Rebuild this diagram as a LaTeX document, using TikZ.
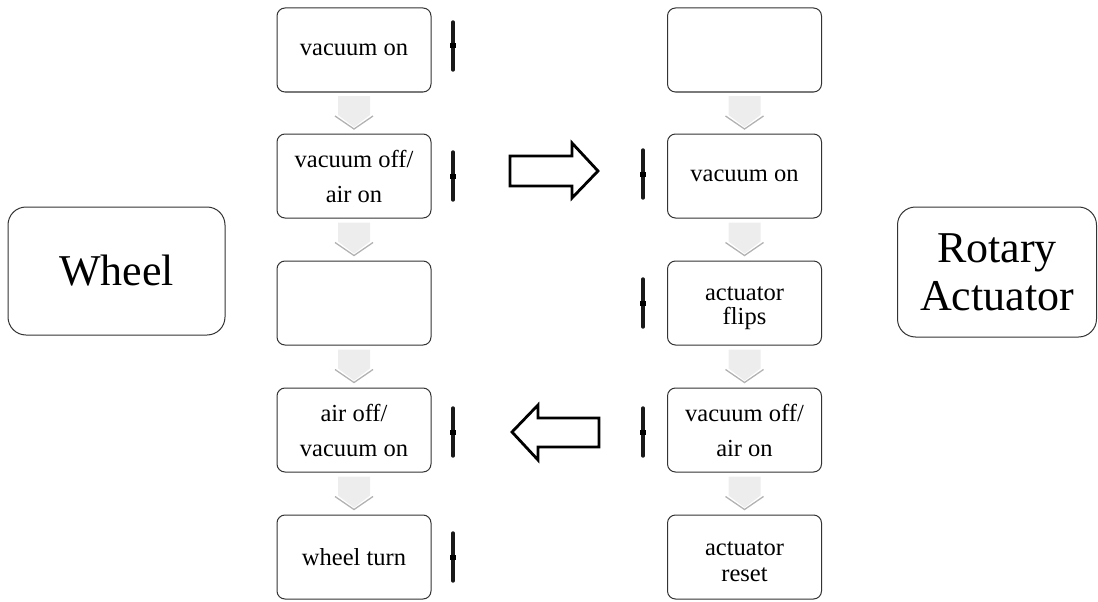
\documentclass[tikz,border=0pt]{standalone}
\usepackage{fontspec}
\setmainfont{Liberation Serif}
\usetikzlibrary{calc}
\tikzset{
  stepbox/.style={draw=black!80, line width=1pt, rounded corners=8pt, fill=white,
    minimum width=154pt, minimum height=84pt, inner sep=0pt, align=center,
    font=\fontsize{24.5}{35}\selectfont},
  bigbox/.style={draw=black!80, line width=1pt, rounded corners=18pt, fill=white,
    inner sep=0pt, align=center, font=\fontsize{44}{48}\selectfont},
  chevfill/.style={fill=black!7, draw=none},
  chevline/.style={draw=black!30, line width=1.3pt},
  blockarrow/.style={draw=black, line width=2.8pt, fill=white, line join=miter},
  tickline/.style={line width=3.4pt, draw=black!90, line cap=round},
}
\newcommand{\chev}[2]{%
  \coordinate (cc) at ($(#1.south)!0.5!(#2.north)$);
  \fill[chevfill] ($(cc)+(-16,-17)$) -- ($(cc)+(16,-17)$) -- ($(cc)+(16,2)$) -- ($(cc)+(0,14)$) -- ($(cc)+(-16,2)$) -- cycle;
  \draw[chevline] ($(cc)+(-19,3)$) -- ($(cc)+(0,16)$) -- ($(cc)+(19,3)$);
}
\newcommand{\tickmark}[2]{%
  \draw[tickline] (#1,#2-24) -- (#1,#2+24);
  \fill[black] (#1-3,#2-2.5) rectangle (#1+3,#2+2.5);
}
\begin{document}
\begin{tikzpicture}[x=1pt,y=-1pt]
\useasboundingbox (0,0) rectangle (1098,602);
% left column
\node[stepbox] (l1) at (354,50) {vacuum on};
\node[stepbox] (l2) at (354,176) {vacuum off/\\air on};
\node[stepbox] (l3) at (354,303) {};
\node[stepbox] (l4) at (354,430) {air off/\\vacuum on};
\node[stepbox] (l5) at (354,557) {wheel turn};
% right column
\node[stepbox] (r1) at (744.5,50) {};
\node[stepbox] (r2) at (744.5,176) {vacuum on};
\node[stepbox] (r3) at (744.5,303) {};
\node[font=\fontsize{24.5}{23.5}\selectfont, align=center, inner sep=0pt] (r3t) at ($(r3)+(0,5)$) {actuator\\flips};
\node[stepbox] (r4) at (744.5,430) {vacuum off/\\air on};
\node[stepbox] (r5) at (744.5,557) {};
\node[font=\fontsize{24.5}{26}\selectfont, align=center, inner sep=0pt] (r5t) at ($(r5)+(0,5)$) {actuator\\reset};
% side boxes
\node[bigbox, minimum width=217pt, minimum height=128pt] (wheel) at (116.5,271) {Wheel};
\node[bigbox, minimum width=199pt, minimum height=130pt] (rot) at (997,272) {Rotary\\Actuator};
% chevrons
\chev{l1}{l2}
\chev{l2}{l3}
\chev{l3}{l4}
\chev{l4}{l5}
\chev{r1}{r2}
\chev{r2}{r3}
\chev{r3}{r4}
\chev{r4}{r5}
% tick marks
\tickmark{453}{46}
\tickmark{453}{176}
\tickmark{453}{432}
\tickmark{453}{557}
\tickmark{643}{174}
\tickmark{643}{303}
\tickmark{643}{432}
% block arrows
\draw[blockarrow] (510,156) -- (572,156) -- (572,143) -- (598,171) -- (572,198) -- (572,186) -- (510,186) -- cycle;
\draw[blockarrow] (599,418) -- (538,418) -- (538,405) -- (512,432) -- (538,460) -- (538,447) -- (599,447) -- cycle;
\end{tikzpicture}
\end{document}
